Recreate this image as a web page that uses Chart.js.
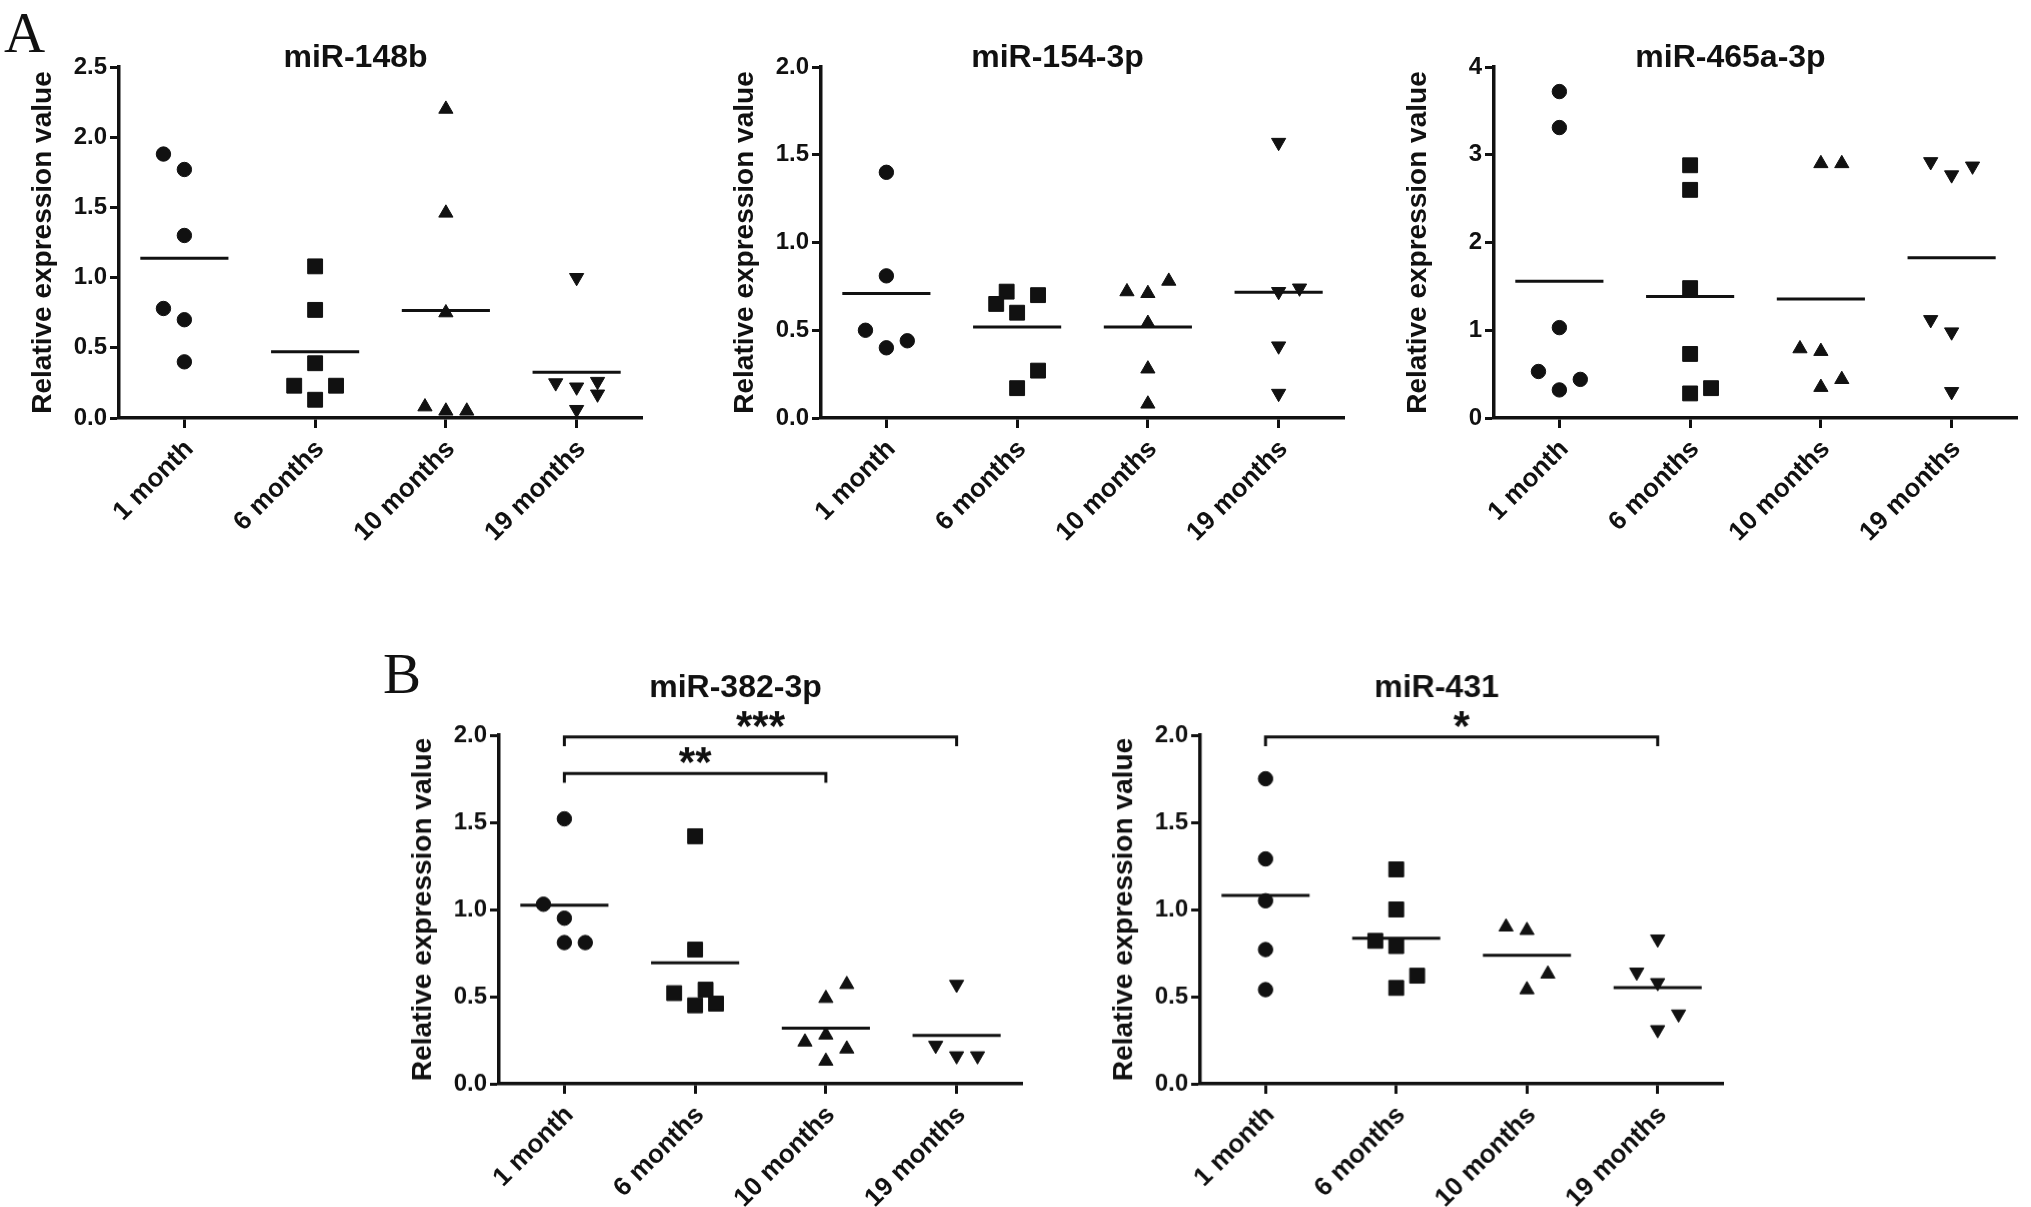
<!DOCTYPE html>
<html>
<head>
<meta charset="utf-8">
<script src="https://cdn.jsdelivr.net/npm/chart.js@4.4.1/dist/chart.umd.min.js"></script>
<style>
  html, body { margin: 0; padding: 0; background: #fff; overflow: hidden; }
  body { width: 2031px; height: 1207px; position: relative; }
  .panel { position: absolute; }
  .letter { position: absolute; font-family: 'Liberation Serif', 'Times New Roman', serif;
            font-size: 57px; line-height: 57px; color: #111; }
</style>
</head>
<body>
<div class="letter" style="left:4px;top:4px">A</div>
<div class="letter" style="left:383px;top:645px">B</div>
<canvas class="panel" id="c148b"></canvas>
<canvas class="panel" id="c154"></canvas>
<canvas class="panel" id="c465"></canvas>
<canvas class="panel" id="c382"></canvas>
<canvas class="panel" id="c431"></canvas>

<script>
'use strict';

const groups = ['1 month', '6 months', '10 months', '19 months'];

// values, one array per age group
// jitter = sideways nudge of a point, in half steps (2 = one full step left/right)
const vals148b = [[1.88, 1.77, 1.30, 0.78, 0.70, 0.40], [1.08, 0.77, 0.39, 0.23, 0.23, 0.13],
                  [2.20, 1.46, 0.75, 0.08, 0.05, 0.05], [1.00, 0.25, 0.22, 0.26, 0.17, 0.06]];
const jit148b  = [[-2, 0, 0, -2, 0, 0], [0, 0, 0, -2, 2, 0], [0, 0, 0, -2, 0, 2], [0, -2, 0, 2, 2, 0]];
const yTicks148b = [0, 0.5, 1.0, 1.5, 2.0, 2.5];

const vals154 = [[1.40, 0.81, 0.50, 0.44, 0.40], [0.72, 0.70, 0.65, 0.60, 0.27, 0.17],
                 [0.78, 0.72, 0.71, 0.54, 0.28, 0.08], [1.57, 0.72, 0.74, 0.41, 0.14]];
const jit154  = [[0, 0, -2, 2, 0], [-1, 2, -2, 0, 2, 0], [2, -2, 0, 0, 0, 0], [0, 0, 2, 0, 0]];
const yTicks154 = [0, 0.5, 1.0, 1.5, 2.0];

const vals465 = [[3.72, 3.31, 1.03, 0.53, 0.44, 0.32], [2.88, 2.60, 1.48, 0.73, 0.34, 0.28],
                 [2.90, 2.90, 0.79, 0.76, 0.44, 0.35], [2.92, 2.87, 2.77, 1.12, 0.98, 0.30]];
const jit465  = [[0, 0, 0, -2, 2, 0], [0, 0, 0, 0, 2, 0], [0, 2, -2, 0, 2, 0], [-2, 2, 0, -2, 0, 0]];
const yTicks465 = [0, 1, 2, 3, 4];

const vals382 = [[1.52, 1.03, 0.95, 0.81, 0.81], [1.42, 0.77, 0.54, 0.52, 0.46, 0.45],
                 [0.57, 0.49, 0.28, 0.24, 0.20, 0.13], [0.57, 0.22, 0.16, 0.16]];
const jit382  = [[0, -2, 0, 0, 2], [0, 0, 1, -2, 2, 0], [2, 0, 0, -2, 2, 0], [0, -2, 0, 2]];
const yTicks382 = [0, 0.5, 1.0, 1.5, 2.0];
const sig382 = [{ from: 1, to: 4, y: 1.99, text: '***' }, { from: 1, to: 3, y: 1.78, text: '**' }];

const vals431 = [[1.75, 1.29, 1.05, 0.77, 0.54], [1.23, 1.00, 0.82, 0.79, 0.62, 0.55],
                 [0.90, 0.88, 0.63, 0.54], [0.83, 0.64, 0.58, 0.40, 0.31]];
const jit431  = [[0, 0, 0, 0, 0], [0, 0, -2, 0, 2, 0], [-2, 0, 2, 0], [0, -2, 0, 2, 0]];
const yTicks431 = [0, 0.5, 1.0, 1.5, 2.0];
const sig431 = [{ from: 1, to: 4, y: 1.99, text: '*' }];


////////////////////// look //////////////////////
const INK = '#111';
const FONT = "'Liberation Sans', Arial, sans-serif";
const markStyle = ['circle', 'rect', 'triangle', 'triangle'];
const markRot = [0, 0, 0, 180];
const markRad = [7.2, 10.5, 8.2, 8.2];
const JIT = 0.08;       // one half step, in category units
const HALF = 0.337;     // half width of the mean bar
const DROP = 0.053;     // bracket leg
const Y_W = 110, X_H = 130, PAD_T = 70, PAD_R = 12;

function mean(a) {
  let s = 0;
  for (let i = 0; i < a.length; i++) s += a[i];
  return s / a.length;
}

// titles and significance stars
const decor = {
  id: 'decor',
  afterDraw(chart, args, opts) {
    const { ctx, chartArea, scales } = chart;
    ctx.save();
    ctx.fillStyle = INK;
    ctx.textAlign = 'center';
    ctx.textBaseline = 'alphabetic';
    ctx.font = 'bold 32px ' + FONT;
    ctx.fillText(opts.title, (chartArea.left - 50 + chartArea.right) / 2, chartArea.top - opts.lift);
    ctx.font = 'bold 42px ' + FONT;
    (opts.sig || []).forEach(b => {
      const x = (scales.x.getPixelForValue(b.from) + scales.x.getPixelForValue(b.to)) / 2;
      ctx.fillText(b.text, x, scales.y.getPixelForValue(b.y) + 3);
    });
    ctx.restore();
  }
};

function makePanel(p) {
  const canvas = document.getElementById(p.id);
  const w = Y_W + (p.right - p.left) + PAD_R;
  const h = PAD_T + (p.bottom - p.top) + X_H;
  canvas.width = w;
  canvas.height = h;
  canvas.style.width = w + 'px';
  canvas.style.height = h + 'px';
  canvas.style.left = (p.left - Y_W) + 'px';
  canvas.style.top = (p.top - PAD_T) + 'px';

  const datasets = [];
  p.vals.forEach((vals, g) => {
    datasets.push({
      type: 'scatter',
      data: vals.map((v, i) => ({ x: g + 1 + p.jit[g][i] * JIT, y: v })),
      showLine: false,
      pointStyle: markStyle[g],
      pointRotation: markRot[g],
      pointRadius: markRad[g],
      pointBackgroundColor: INK,
      pointBorderColor: INK,
      pointBorderWidth: 1,
      clip: false
    });
    const m = mean(vals);
    datasets.push({
      type: 'line',
      data: [{ x: g + 1 - HALF, y: m }, { x: g + 1 + HALF, y: m }],
      borderColor: INK, borderWidth: 3, pointRadius: 0, clip: false
    });
  });
  (p.sig || []).forEach(b => {
    datasets.push({
      type: 'line',
      data: [{ x: b.from, y: b.y - DROP }, { x: b.from, y: b.y }, { x: b.to, y: b.y }, { x: b.to, y: b.y - DROP }],
      borderColor: INK, borderWidth: 3, pointRadius: 0, clip: false,
      borderJoinStyle: 'miter', tension: 0
    });
  });

  const tickFont = { family: FONT, size: 24, weight: 'bold' };
  new Chart(canvas, {
    type: 'scatter',
    data: { datasets: datasets },
    options: {
      responsive: false,
      animation: false,
      events: [],
      layout: { padding: { top: PAD_T, right: PAD_R, left: 0, bottom: 0 } },
      plugins: {
        legend: { display: false },
        tooltip: { enabled: false },
        decor: { title: p.title, lift: p.lift, sig: p.sig }
      },
      scales: {
        x: {
          type: 'linear', min: 0.5, max: 4.5,
          afterBuildTicks: s => { s.ticks = groups.map((_, i) => ({ value: i + 1 })); },
          afterFit: s => { s.height = X_H; },
          ticks: {
            callback: v => groups[Math.round(v) - 1],
            font: { family: FONT, size: 26, weight: 'bold' }, color: INK,
            minRotation: 45, maxRotation: 45, autoSkip: false, padding: 6, labelOffset: 5
          },
          grid: { display: true, drawOnChartArea: false, drawTicks: true, tickLength: 10,
                  tickWidth: 3, tickColor: INK, color: INK },
          border: { display: true, width: 3.5, color: INK }
        },
        y: {
          type: 'linear', min: p.yTicks[0], max: p.yTicks[p.yTicks.length - 1],
          afterBuildTicks: s => { s.ticks = p.yTicks.map(v => ({ value: v })); },
          afterFit: s => { s.width = Y_W; },
          ticks: {
            callback: v => p.dec ? v.toFixed(1) : String(v),
            font: tickFont, color: INK, padding: 3
          },
          grid: { display: true, drawOnChartArea: false, drawTicks: true, tickLength: 9,
                  tickWidth: 3, tickColor: INK, color: INK },
          border: { display: true, width: 3.5, color: INK },
          title: {
            display: true, text: 'Relative expression value', color: INK,
            font: { family: FONT, size: 28, weight: 'bold' }, padding: { top: 17, bottom: 0 }
          }
        }
      }
    },
    plugins: [decor]
  });
}

// where each plot frame sits on the page
makePanel({ id: 'c148b', left: 119, right: 642, top: 67, bottom: 418, title: 'miR-148b', lift: 0,
            vals: vals148b, jit: jit148b, yTicks: yTicks148b, dec: true });
makePanel({ id: 'c154', left: 821, right: 1344, top: 67, bottom: 418, title: 'miR-154-3p', lift: 0,
            vals: vals154, jit: jit154, yTicks: yTicks154, dec: true });
makePanel({ id: 'c465', left: 1494, right: 2017, top: 67, bottom: 418, title: 'miR-465a-3p', lift: 0,
            vals: vals465, jit: jit465, yTicks: yTicks465, dec: false });
makePanel({ id: 'c382', left: 499, right: 1022, top: 735, bottom: 1083.5, title: 'miR-382-3p', lift: 38,
            vals: vals382, jit: jit382, yTicks: yTicks382, dec: true, sig: sig382 });
makePanel({ id: 'c431', left: 1200, right: 1722.5, top: 735, bottom: 1083.5, title: 'miR-431', lift: 38,
            vals: vals431, jit: jit431, yTicks: yTicks431, dec: true, sig: sig431 });
</script>
</body>
</html>
